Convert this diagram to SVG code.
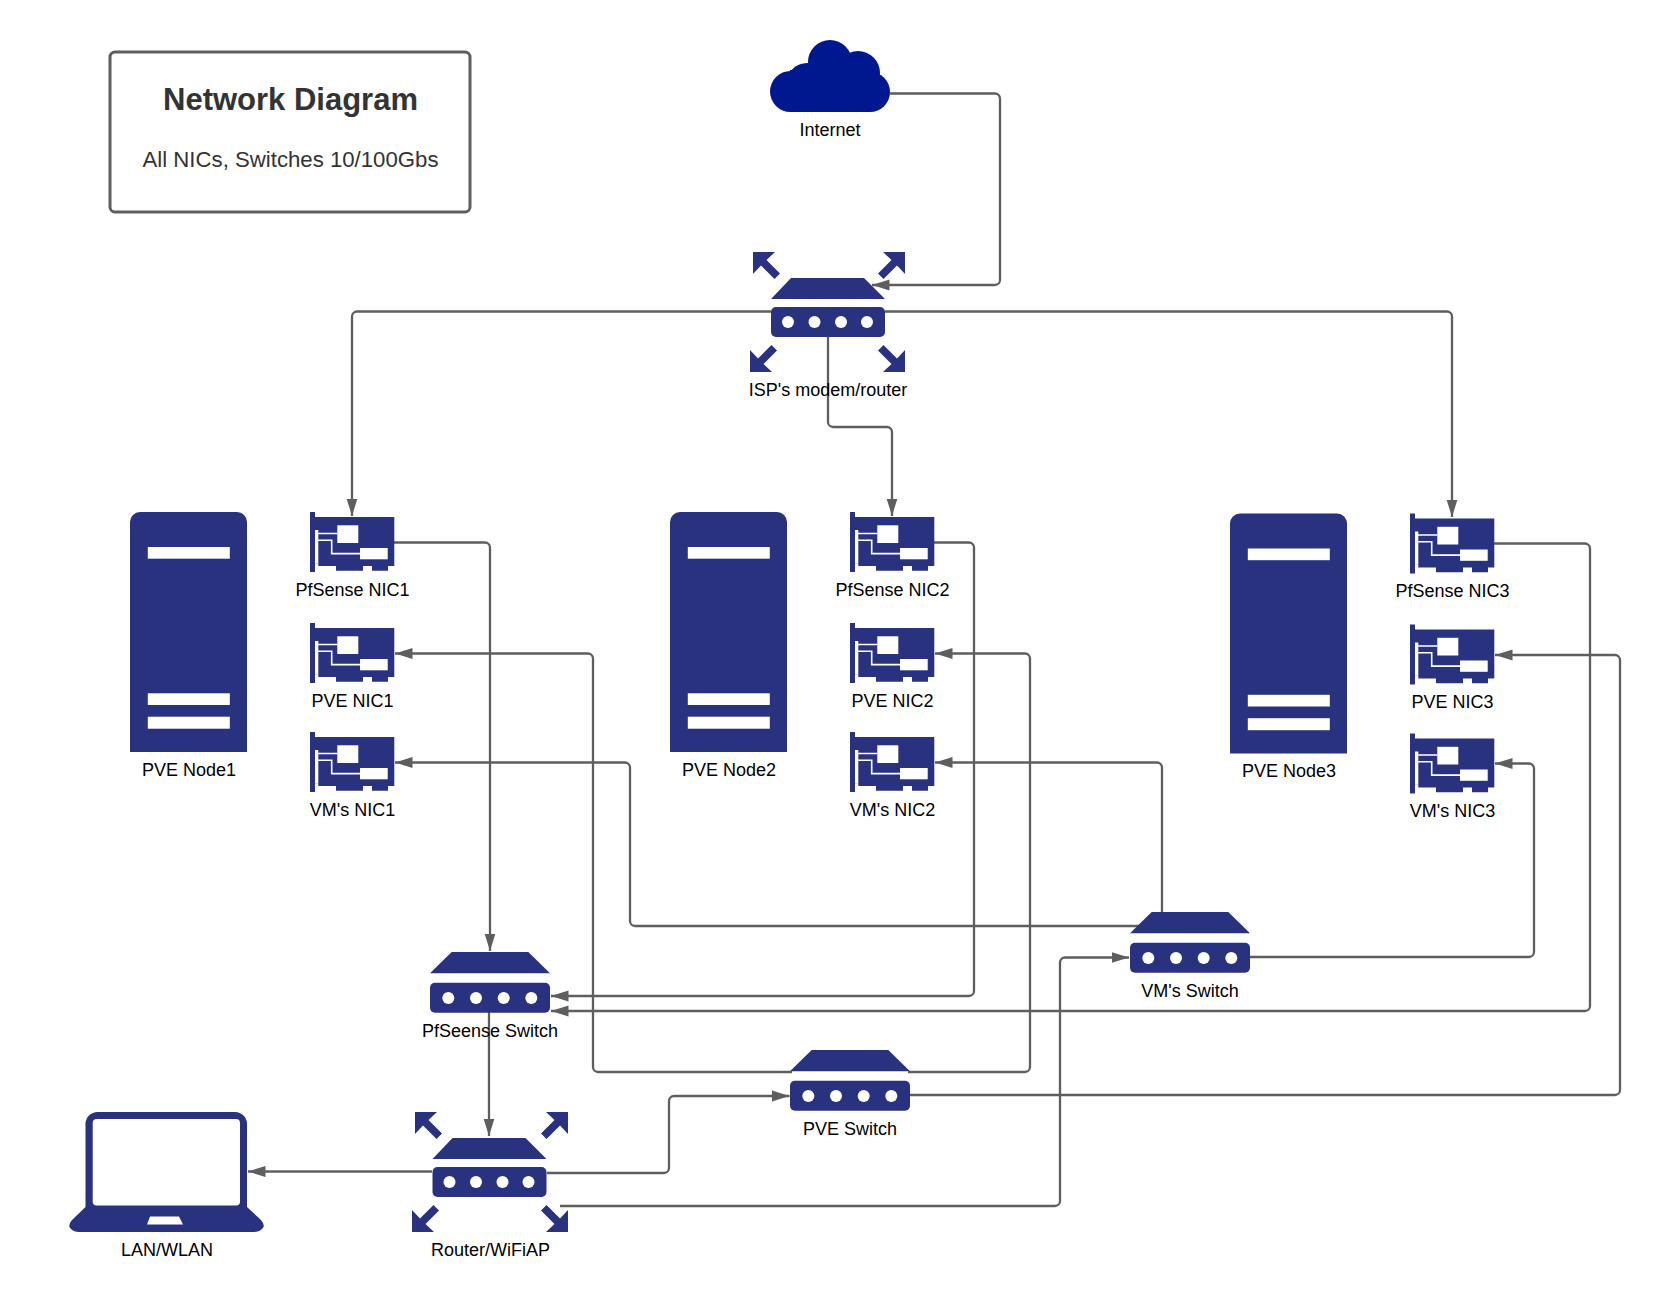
<svg xmlns="http://www.w3.org/2000/svg" width="1660" height="1302" viewBox="0 0 1660 1302">
<style>
.ic{fill:#29327f}
.w{fill:#fff}
.l{font-family:"Liberation Sans",Arial,sans-serif;font-size:18px;fill:#000;text-anchor:middle}
.c{fill:none;stroke:#5e5e5e;stroke-width:2.300;stroke-linejoin:round}
.a{marker-end:url(#ah)}
.tr{fill:none;stroke:#fff;stroke-width:1.600}
</style>
<defs>
<marker id="ah" markerUnits="userSpaceOnUse" markerWidth="18" markerHeight="12" refX="17.500" refY="6" orient="auto"><path d="M0 0.500L17.500 6L0 11.500Z" fill="#5e5e5e"/></marker>
<g id="nic">
<path class="ic" d="M0 0H5V5H84.300V54H78V58.700H62V54H53V58.700H26V54H8.300V51.300H5V60H0Z"/>
<rect class="w" x="5" y="18" width="3.300" height="33.300"/>
<rect class="w" x="27.300" y="13.300" width="21" height="17.700"/>
<rect class="w" x="50" y="36" width="27.700" height="11.300"/>
<path class="tr" d="M8 21.500H27.300M8 28.300H21.700V41.600H50"/>
</g>
<g id="server">
<path class="ic" d="M0 240V10A10 10 0 0 1 10 0H107A10 10 0 0 1 117 10V240Z"/>
<rect class="w" x="17.800" y="35" width="82" height="11.700"/>
<rect class="w" x="17.800" y="181.300" width="82" height="11.700"/>
<rect class="w" x="17.800" y="204.700" width="82" height="12"/>
</g>
<g id="rt">
<path class="ic" d="M20 0H93L114 21H0Z"/>
<rect class="ic" y="29" width="114" height="30" rx="5"/>
<g class="w"><circle cx="17" cy="44" r="6"/><circle cx="43.500" cy="44" r="6"/><circle cx="70" cy="44" r="6"/><circle cx="96" cy="44" r="6"/></g>
</g>
<g id="sw">
<path class="ic" d="M21.700 0H98.300L120 21.300H0Z"/>
<rect class="ic" y="30.700" width="120" height="30" rx="5"/>
<g class="w"><circle cx="18.300" cy="46" r="6"/><circle cx="46" cy="46" r="6"/><circle cx="73.700" cy="46" r="6"/><circle cx="101.300" cy="46" r="6"/></g>
</g>
<path id="ar" class="ic" d="M0 0H22L13.500 8L27 21.500L21.500 27L8 13.500L0 22Z"/>
</defs>
<rect width="1660" height="1302" fill="#fff"/>
<g id="connectors">
<path class="c a" d="M890 93.500H995a5 5 0 0 1 5 5V280a5 5 0 0 1 -5 5H872"/>
<path class="c a" d="M771 311.500H357a5 5 0 0 0 -5 5V516"/>
<path class="c a" d="M885 311.500H1447a5 5 0 0 1 5 5V517"/>
<path class="c a" d="M828 337V422a5 5 0 0 0 5 5H887a5 5 0 0 1 5 5V516"/>
<path class="c a" d="M394 542.500H485a5 5 0 0 1 5 5V951"/>
<path class="c a" d="M934 542.500H969a5 5 0 0 1 5 5V991a5 5 0 0 1 -5 5H551"/>
<path class="c a" d="M1494 543.500H1585a5 5 0 0 1 5 5V1006a5 5 0 0 1 -5 5H551"/>
<path class="c a" d="M489 1012V1136"/>
<path class="c a" d="M432 1171.500H248"/>
<path class="c a" d="M547 1173H664a5 5 0 0 0 5 -5V1101a5 5 0 0 1 5 -5H789.500"/>
<path class="c a" d="M560 1206H1055a5 5 0 0 0 5 -5V962.500a5 5 0 0 1 5 -5H1129"/>
<path class="c a" d="M792 1072H598a5 5 0 0 1 -5 -5V658.500a5 5 0 0 0 -5 -5H395"/>
<path class="c a" d="M908 1072H1025a5 5 0 0 0 5 -5V658.500a5 5 0 0 0 -5 -5H935"/>
<path class="c a" d="M910 1095H1615a5 5 0 0 0 5 -5V660a5 5 0 0 0 -5 -5H1495"/>
<path class="c a" d="M1145 926H635a5 5 0 0 1 -5 -5V767.500a5 5 0 0 0 -5 -5H395"/>
<path class="c a" d="M1162 913V767.500a5 5 0 0 0 -5 -5H935"/>
<path class="c a" d="M1250 957H1529a5 5 0 0 0 5 -5V768.500a5 5 0 0 0 -5 -5H1495"/>
</g>
<g id="title"><rect x="110" y="52" width="360" height="160" rx="5" fill="#fff" stroke="#5e5e5e" stroke-width="3"/>
<text x="290.500" y="110" font-family="Liberation Sans,Arial,sans-serif" font-size="31" font-weight="700" fill="#333" text-anchor="middle">Network Diagram</text>
<text x="290.500" y="167" font-family="Liberation Sans,Arial,sans-serif" font-size="22.200" fill="#333" text-anchor="middle">All NICs, Switches 10/100Gbs</text></g>
<g id="internet"><g fill="#00188f"><circle cx="790.500" cy="91.500" r="20.500"/><circle cx="807" cy="83" r="20"/><circle cx="830" cy="62" r="22"/><circle cx="858" cy="73" r="22"/><circle cx="870" cy="92" r="20"/><rect x="790" y="70" width="80" height="42"/></g><text class="l" x="830" y="135.500">Internet</text></g>
<g id="modem"><use href="#rt" x="771" y="278"/><use href="#ar" x="753" y="252"/><use href="#ar" transform="translate(905 252) scale(-1 1)"/><use href="#ar" transform="translate(750 372) scale(1 -1)"/><use href="#ar" transform="translate(905 372) scale(-1 -1)"/><text class="l" x="828" y="395.500">ISP's modem/router</text></g>
<g id="node1"><use href="#server" x="130" y="512"/><text class="l" x="189" y="775.500">PVE Node1</text></g>
<g id="node2"><use href="#server" x="670" y="512"/><text class="l" x="729" y="775.500">PVE Node2</text></g>
<g id="node3"><use href="#server" x="1230" y="513.500"/><text class="l" x="1289" y="777">PVE Node3</text></g>
<g id="nic-p1"><use href="#nic" x="310" y="512"/><text class="l" x="352.500" y="595.700">PfSense NIC1</text></g>
<g id="nic-v1"><use href="#nic" x="310" y="623"/><text class="l" x="352.500" y="706.700">PVE NIC1</text></g>
<g id="nic-m1"><use href="#nic" x="310" y="732"/><text class="l" x="352.500" y="815.700">VM's NIC1</text></g>
<g id="nic-p2"><use href="#nic" x="850" y="512"/><text class="l" x="892.500" y="595.700">PfSense NIC2</text></g>
<g id="nic-v2"><use href="#nic" x="850" y="623"/><text class="l" x="892.500" y="706.700">PVE NIC2</text></g>
<g id="nic-m2"><use href="#nic" x="850" y="732"/><text class="l" x="892.500" y="815.700">VM's NIC2</text></g>
<g id="nic-p3"><use href="#nic" x="1410" y="513.500"/><text class="l" x="1452.500" y="597">PfSense NIC3</text></g>
<g id="nic-v3"><use href="#nic" x="1410" y="624.500"/><text class="l" x="1452.500" y="708">PVE NIC3</text></g>
<g id="nic-m3"><use href="#nic" x="1410" y="733.500"/><text class="l" x="1452.500" y="817">VM's NIC3</text></g>
<g id="vmsw"><use href="#sw" x="1130" y="912"/><text class="l" x="1190" y="996.500">VM's Switch</text></g>
<g id="pfsw"><use href="#sw" x="430" y="952"/><text class="l" x="490" y="1036.500">PfSeense Switch</text></g>
<g id="pvesw"><use href="#sw" x="790" y="1050"/><text class="l" x="850" y="1135">PVE Switch</text></g>
<g id="router"><use href="#rt" x="432.500" y="1138"/><use href="#ar" x="415" y="1112"/><use href="#ar" transform="translate(568 1112) scale(-1 1)"/><use href="#ar" transform="translate(412 1232) scale(1 -1)"/><use href="#ar" transform="translate(568 1232) scale(-1 -1)"/><text class="l" x="490.500" y="1255.500">Router/WiFiAP</text></g>
<g id="laptop"><path class="ic" d="M85.500 1207V1124a12 12 0 0 1 12 -12H235a12 12 0 0 1 12 12V1207L261 1220Q266 1226 262 1229Q259 1232 254 1232H79Q74 1232 71 1229Q67 1226 72 1220Z"/><rect class="w" x="92.700" y="1119" width="147.300" height="86.500" rx="4"/><path class="w" d="M150 1216.500H179L183 1224.500H147Z"/><text class="l" x="167" y="1255.500">LAN/WLAN</text></g>
</svg>
